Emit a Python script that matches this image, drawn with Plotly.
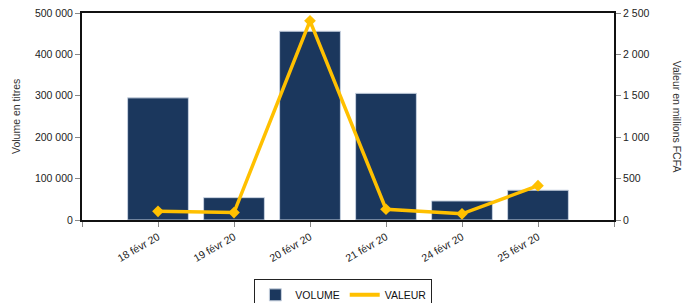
import plotly.graph_objects as go

categories = ["18 févr 20", "19 févr 20", "20 févr 20", "21 févr 20", "24 févr 20", "25 févr 20"]
volume = [295000, 54000, 456000, 306000, 46000, 72000]
valeur = [105, 90, 2405, 130, 75, 415]
left_ticks = [0, 100000, 200000, 300000, 400000, 500000]
left_ticktext = ["0", "100 000", "200 000", "300 000", "400 000", "500 000"]
right_ticks = [0, 500, 1000, 1500, 2000, 2500]
right_ticktext = ["0", "500", "1 000", "1 500", "2 000", "2 500"]

xpos = list(range(len(categories)))

fig = go.Figure()
fig.add_trace(go.Bar(
    x=xpos, y=volume, name="VOLUME", width=0.8,
    marker=dict(color="#1b375d", line=dict(color="#c8d2e0", width=1)),
))
fig.add_trace(go.Scatter(
    x=xpos, y=valeur, name="VALEUR", yaxis="y2", mode="lines+markers",
    line=dict(color="#ffc000", width=3.5),
    marker=dict(symbol="diamond", size=9, color="#ffc000"),
    showlegend=False,
))
fig.add_trace(go.Scatter(
    x=[None], y=[None], name="VALEUR", yaxis="y2", mode="lines",
    line=dict(color="#ffc000", width=4),
))

font_l = dict(family="Liberation Sans, Arial", size=10.5, color="#222")

fig.update_layout(
    width=684, height=303,
    margin=dict(l=82, r=70, t=13, b=83),
    paper_bgcolor="white", plot_bgcolor="white",
    showlegend=True,
    legend=dict(orientation="h", xref="container", yref="container",
                x=0.502, xanchor="center", y=0.078, yanchor="top",
                bordercolor="#222", borderwidth=1,
                font=dict(family="Liberation Sans, Arial", size=10.5, color="#111"),
                itemwidth=30, traceorder="normal"),
    xaxis=dict(range=[-1, 6], tickmode="array",
               tickvals=[-1] + xpos + [6], ticktext=[""] + categories + [""],
               tickangle=-30, ticks="outside", ticklen=5, tickcolor="#888",
               showline=True, linecolor="#111", linewidth=2, mirror=True,
               showgrid=False, zeroline=False, tickfont=font_l, automargin=False),
    yaxis=dict(range=[0, 500000], tickmode="array", tickvals=left_ticks, ticktext=left_ticktext,
               ticks="outside", ticklen=5, tickcolor="#888",
               showline=True, linecolor="#111", linewidth=2,
               showgrid=False, zeroline=False, tickfont=font_l, automargin=False),
    yaxis2=dict(range=[0, 2500], overlaying="y", side="right", tickmode="array",
                tickvals=right_ticks, ticktext=right_ticktext,
                ticks="outside", ticklen=5, tickcolor="#888",
                showline=True, linecolor="#111", linewidth=2,
                showgrid=False, zeroline=False, tickfont=font_l, automargin=False),
    annotations=[
        dict(text="Volume en titres", xref="paper", yref="paper", x=-0.125, y=0.5,
             xanchor="center", yanchor="middle", textangle=-90, showarrow=False,
             font=dict(family="Liberation Sans, Arial", size=10.5, color="#333")),
        dict(text="Valeur en millions FCFA", xref="paper", yref="paper", x=1.12, y=0.5,
             xanchor="center", yanchor="middle", textangle=90, showarrow=False,
             font=dict(family="Liberation Sans, Arial", size=10.5, color="#333")),
    ],
)

fig.write_html("out.html", config={"displayModeBar": False},
               post_script="document.body.style.margin='0';")
